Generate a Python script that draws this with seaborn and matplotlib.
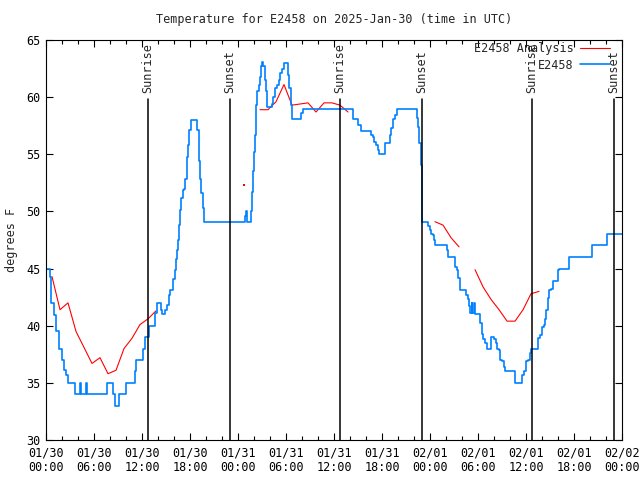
import numpy as np
import pandas as pd
import matplotlib
matplotlib.use("Agg")
import matplotlib.pyplot as plt
import matplotlib.transforms as mtransforms
from matplotlib.lines import Line2D
from matplotlib.ticker import FixedLocator, MultipleLocator
import seaborn as sns

TITLE = "Temperature for E2458 on 2025-Jan-30 (time in UTC)"
STATION = "E2458"

# hours since 2025-01-30 00:00 UTC
TICK_HOURS = [0, 6, 12, 18, 24, 30, 36, 42, 48, 54, 60, 66, 72]
TICK_LABELS = ["01/30\n00:00", "01/30\n06:00", "01/30\n12:00", "01/30\n18:00",
               "01/31\n00:00", "01/31\n06:00", "01/31\n12:00", "01/31\n18:00",
               "02/01\n00:00", "02/01\n06:00", "02/01\n12:00", "02/01\n18:00",
               "02/02\n00:00"]

SUN_HOURS = [12.75, 23.0, 36.75, 47.0, 60.75, 71.0]
SUN_LABELS = ["Sunrise", "Sunset", "Sunrise", "Sunset", "Sunrise", "Sunset"]

# observed temperature (stepped)
BLUE_HOURS = [0.0, 0.45, 0.67, 1.0, 1.3, 1.58, 2.04, 2.25, 2.5, 2.75,
              3.67, 4.25, 4.42, 5.0, 5.17, 7.6, 8.33, 8.67, 9.08, 10.0,
              11.1, 11.3, 12.1, 12.4, 12.9, 13.6, 13.9, 14.4, 14.5, 14.9,
              15.15, 15.4, 15.5, 15.9, 16.08, 16.25, 16.35, 16.45, 16.58, 16.75,
              16.92, 17.08, 17.25, 17.42, 17.58, 17.75, 17.92, 18.08, 18.92, 19.08,
              19.25, 19.42, 19.58, 19.75, 24.92, 25.0, 25.17, 25.58, 25.71, 25.83,
              25.96, 26.08, 26.21, 26.33, 26.58, 26.75, 26.92, 27.0, 27.17, 27.33,
              27.5, 27.58, 28.25, 28.42, 28.67, 28.92, 29.08, 29.25, 29.5, 29.75,
              30.25, 30.42, 30.58, 30.75, 31.92, 32.17, 38.33, 39.0, 39.42, 40.67,
              40.83, 41.0, 41.25, 41.5, 41.67, 42.33, 43.0, 43.17, 43.42, 43.67,
              43.92, 46.33, 46.5, 46.67, 46.83, 47.0, 47.04, 47.79, 47.96, 48.13,
              48.38, 48.54, 48.63, 50.13, 50.21, 51.13, 51.38, 51.54, 51.71, 52.54,
              52.71, 52.88, 53.04, 53.21, 53.29, 53.46, 53.63, 54.29, 54.46, 54.63,
              54.88, 55.13, 55.63, 56.04, 56.21, 56.38, 56.63, 56.79, 57.04, 57.21,
              57.38, 58.63, 59.54, 59.71, 60.04, 60.29, 60.46, 60.63, 61.54, 61.79,
              61.96, 62.21, 62.38, 62.54, 62.71, 62.88, 63.13, 63.38, 64.04, 64.13,
              65.38, 68.29, 70.13, 72.0]
BLUE_TEMPS = [45.0, 44.3, 42.0, 40.9, 39.5, 38.0, 37.0, 36.1, 35.7, 35.0,
              34.0, 35.0, 34.0, 35.0, 34.0, 35.0, 34.0, 33.0, 34.0, 35.0,
              36.0, 37.0, 38.0, 39.0, 40.0, 41.1, 42.0, 41.4, 41.0, 41.4,
              41.8, 42.7, 43.1, 44.1, 44.9, 45.8, 46.6, 47.5, 48.8, 50.1,
              51.2, 51.9, 52.0, 52.8, 54.8, 55.8, 57.1, 58.0, 57.1, 54.4,
              52.8, 51.6, 50.3, 49.1, 49.6, 50.0, 49.1, 50.0, 51.7, 53.5,
              55.2, 56.7, 59.3, 60.5, 61.1, 61.8, 62.7, 63.1, 62.7, 61.5,
              60.5, 59.1, 59.4, 60.0, 60.8, 61.1, 61.5, 62.1, 62.5, 63.0,
              61.9, 60.8, 59.3, 58.1, 58.6, 59.0, 58.1, 57.6, 57.0, 56.7,
              56.5, 56.1, 55.8, 55.4, 55.0, 56.0, 56.7, 57.3, 58.1, 58.4,
              59.0, 58.2, 57.4, 56.0, 54.1, 52.1, 49.05, 48.7, 48.4, 48.0,
              47.9, 47.5, 47.1, 46.6, 46.0, 45.1, 44.9, 44.2, 43.1, 42.7,
              42.3, 41.7, 41.1, 42.0, 41.1, 42.0, 41.0, 40.2, 39.3, 38.8,
              38.5, 38.0, 39.0, 38.8, 38.5, 38.0, 37.9, 37.0, 36.9, 36.4,
              36.0, 35.0, 35.7, 36.0, 36.9, 37.0, 37.6, 38.0, 38.9, 39.2,
              39.9, 40.1, 40.6, 41.4, 42.4, 43.1, 43.2, 43.9, 44.9, 45.0,
              46.0, 47.1, 48.0, 48.0]

# hourly analysis, with gaps
RED_HOURS = [0.75, 1.75, 2.75, 3.75, 4.75, 5.75, 6.75, 7.75, 8.75, 9.75, 10.75, 11.75, 12.75, 13.75,
             24.75,
             26.75, 27.75, 28.75, 29.75, 30.75, 31.75, 32.75, 33.75, 34.75, 35.75, 36.75, 37.75,
             48.63, 49.63, 50.63, 51.63,
             53.63, 54.63, 55.63, 56.63, 57.63, 58.63, 59.63, 60.63, 61.63]
RED_TEMPS = [44.3, 41.4, 42.0, 39.5, 38.1, 36.7, 37.2, 35.8, 36.1, 38.0, 38.9, 40.1, 40.6, 41.3,
             52.3,
             58.9, 58.9, 59.6, 61.1, 59.3, 59.4, 59.5, 58.7, 59.5, 59.5, 59.3, 58.7,
             49.1, 48.8, 47.7, 46.9,
             44.9, 43.4, 42.3, 41.4, 40.4, 40.4, 41.4, 42.8, 43.0]
RED_SEGMENT = [0] * 14 + [1] + [2] * 12 + [3] * 4 + [4] * 9

RED = "#ff0000"
BLUE = "#0080ff"

sns.set_style("ticks")
plt.rcParams["font.family"] = ["DejaVu Sans Mono"]
plt.rcParams["font.size"] = 8.5

obs = pd.DataFrame({"hour": BLUE_HOURS, "temp": BLUE_TEMPS})
ana = pd.DataFrame({"hour": RED_HOURS, "temp": RED_TEMPS, "seg": RED_SEGMENT})
seg_size = ana.groupby("seg")["hour"].transform("size")

fig = plt.figure(figsize=(6.4, 4.8), dpi=100)
ax = fig.add_axes([46 / 640, 40 / 480, 576 / 640, 400 / 480])

# analysis: line segments, isolated hours as single dots
sns.lineplot(data=ana[seg_size > 1], x="hour", y="temp", units="seg", estimator=None,
             color=RED, linewidth=0.8, ax=ax)
sns.scatterplot(data=ana[seg_size == 1], x="hour", y="temp", color=RED, marker="s",
                s=2, linewidth=0, ax=ax)
sns.lineplot(data=obs, x="hour", y="temp", estimator=None, color=BLUE, linewidth=1.2,
             drawstyle="steps-post", ax=ax)

# sunrise / sunset markers
trans = mtransforms.blended_transform_factory(ax.transData, ax.transAxes)
for h, lab in zip(SUN_HOURS, SUN_LABELS):
    ax.axvline(h, ymin=0, ymax=0.8525, color="black", linewidth=1.1)
    ax.text(h, 0.868, lab, rotation=90, ha="center", va="bottom", transform=trans)

ax.set_xlim(0, 72)
ax.set_ylim(30, 65)
ax.xaxis.set_major_locator(FixedLocator(TICK_HOURS))
ax.set_xticklabels(TICK_LABELS, linespacing=1.15)
ax.xaxis.set_minor_locator(MultipleLocator(2))
ax.yaxis.set_major_locator(MultipleLocator(5))
ax.tick_params(which="both", direction="in", top=True, right=True, colors="black")
ax.tick_params(which="major", length=5, width=0.8, pad=4)
ax.tick_params(axis="x", which="major", pad=5)
ax.tick_params(which="minor", length=3, width=0.8)
for s in ax.spines.values():
    s.set_linewidth(0.8)
    s.set_color("black")

ax.set_xlabel("")
ax.set_ylabel("degrees F")
ax.yaxis.set_label_coords(-0.048, 0.5)

handles = [Line2D([], [], color=RED, linewidth=0.8), Line2D([], [], color=BLUE, linewidth=1.2)]
ax.legend(handles, [f"{STATION} Analysis", STATION], loc="upper right",
          bbox_to_anchor=(0.979, 0.995), frameon=False, markerfirst=False,
          handlelength=2.5, handletextpad=0.6, labelspacing=0.3, borderpad=0,
          borderaxespad=0)

fig.text(334 / 640, 1 - 19 / 480, TITLE, ha="center", va="center")

fig.savefig("out.png", dpi=100)
